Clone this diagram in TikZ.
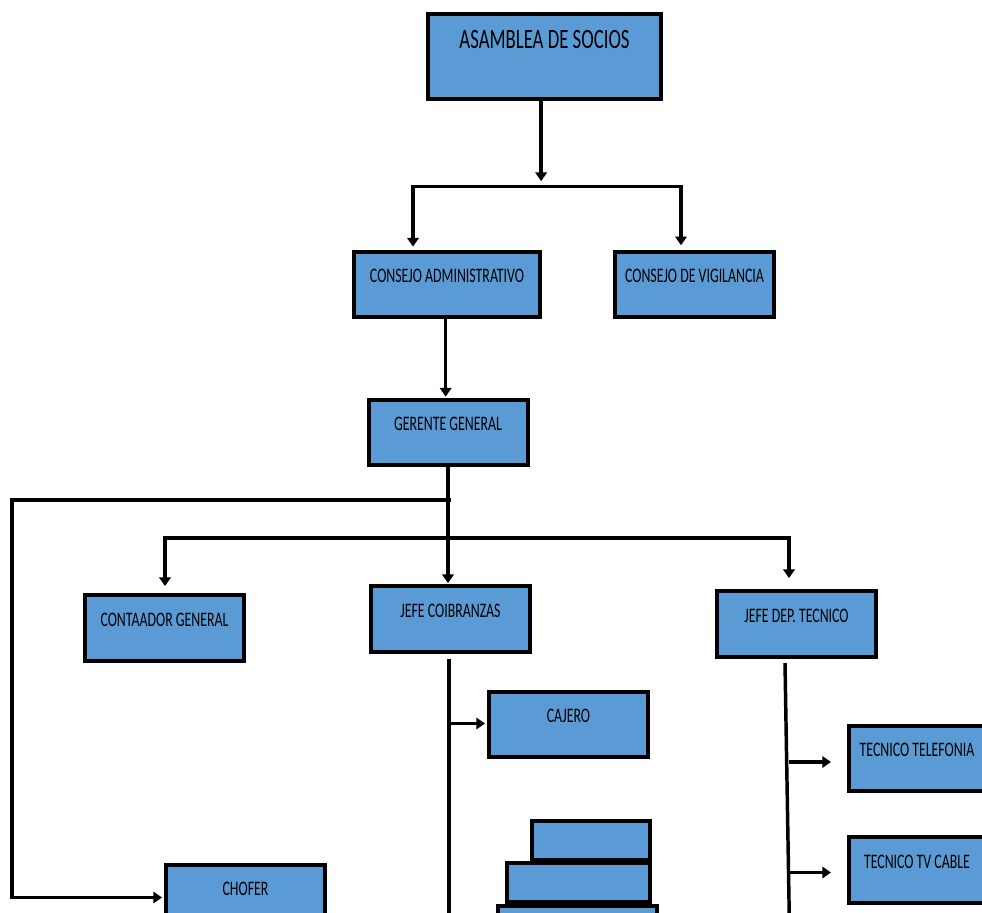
\documentclass[tikz,border=0pt]{standalone}
\usepackage{fontspec}
\usetikzlibrary{arrows.meta}
\newfontfamily\orgfont[FakeStretch=0.67]{Carlito}
\definecolor{boxblue}{HTML}{5B9BD5}

\tikzset{every picture/.style={line width=2.6pt}}
\tikzset{
	orgbox/.style={draw=black, fill=boxblue, line width=3pt, inner sep=0pt, minimum width=119.25pt, text height=22.9pt, text depth=25.9pt, font=\orgfont\fontsize{15.5}{18}\selectfont},
	blankbox/.style={draw=black, fill=boxblue, line width=3pt, inner sep=0pt},
	conn/.style={-{Triangle[length=6.5pt,width=8.5pt]}},
	bus/.style={line cap=rect},
}

\begin{document}
\begin{tikzpicture}[x=0.75pt,y=0.75pt,yscale=-1,xscale=1]
	\useasboundingbox (0,0) rectangle (982,913);
	
	%Shape: Rectangle [asamblea]
	\node[orgbox, minimum width=174.75pt, text height=26.2pt, text depth=37.5pt, font=\orgfont\fontsize{21}{24}\selectfont] (asamblea) at (544.5,56.5) {ASAMBLEA DE SOCIOS};
	%Shape: Rectangle [admin]
	\node[orgbox, minimum width=139.5pt] (admin) at (447,284.5) {CONSEJO ADMINISTRATIVO};
	%Shape: Rectangle [vigilancia]
	\node[orgbox] (vigilancia) at (694.5,284.5) {CONSEJO DE VIGILANCIA};
	%Shape: Rectangle [gerente]
	\node[orgbox] (gerente) at (448,432.5) {GERENTE GENERAL};
	%Shape: Rectangle [contador]
	\node[orgbox] (contador) at (164.5,628) {CONTAADOR GENERAL};
	%Shape: Rectangle [cobranzas]
	\node[orgbox] (cobranzas) at (450.5,619) {JEFE COIBRANZAS};
	%Shape: Rectangle [tecnico]
	\node[orgbox] (tecnico) at (796.5,624) {JEFE DEP. TECNICO};
	%Shape: Rectangle [cajero]
	\node[orgbox] (cajero) at (568.5,724.5) {CAJERO};
	%Shape: Rectangle [telefonia]
	\node[orgbox, minimum width=102pt] (telefonia) at (917,758.5) {TECNICO TELEFONIA};
	%Shape: Rectangle [tvcable]
	\node[orgbox, minimum width=102pt] (tvcable) at (917,870) {TECNICO TV CABLE};
	%Shape: Rectangle [chofer]
	\node[orgbox] (chofer) at (245.5,897.5) {CHOFER};
	
	%Shape: Rectangle [stack]
	\node[blankbox, minimum width=88.5pt, minimum height=29.25pt] (stackA) at (591,840.5) {};
	\node[blankbox, minimum width=107.25pt, minimum height=29.25pt] (stackB) at (578.5,882.5) {};
	\node[blankbox, minimum width=119.25pt, minimum height=48.75pt] (stackC) at (577.5,938.5) {};
	
	% bus points
	\coordinate (busAl) at (413,186.5);
	\coordinate (busAr) at (681,186.5);
	\coordinate (busBl) at (12,500);
	\coordinate (busBr) at (451,500);
	\coordinate (busCl) at (165,538);
	\coordinate (busCr) at (789,538);
	\coordinate (spineAtop) at (449,659);
	\coordinate (spineAend) at (449,930);
	\coordinate (spineAcajero) at (449,723.5);
	\coordinate (spineBtop) at (785,663);
	\coordinate (spineBend) at (789.5,930);
	\coordinate (spineBtel) at (789,762);
	\coordinate (spineBtv) at (789,872.5);
	
	%Straight Lines
	\draw[conn, shorten >=4pt] ([xshift=-2.5]asamblea.south) -- ([xshift=-2.5]asamblea.south |- busAl);
	\draw[bus] (busAl) -- (busAr);
	\draw[conn, shorten >=2.5pt] (busAl) -- (busAl |- admin.north);
	\draw[conn, shorten >=3.5pt] (busAr) -- (busAr |- vigilancia.north);
	
	%Straight Lines
	\draw[conn, shorten >=1pt] ([xshift=-1]admin.south) -- ([xshift=-1]admin.south |- gerente.north);
	\draw[conn, shorten >=1pt] (gerente.south) -- (gerente.south |- cobranzas.north);
	
	%Straight Lines
	\draw[conn, shorten >=1.5pt] (busBr) -- (busBl) -- (busBl |- chofer.west) -- (chofer.west);
	\draw[bus] (busCl) -- (busCr);
	\draw[conn, shorten >=5.5pt] (busCl) -- (busCl |- contador.north);
	\draw[conn, shorten >=8.5pt] (busCr) -- (busCr |- tecnico.north);
	
	%Straight Lines
	\draw (spineAtop) -- (spineAend);
	\draw[conn, shorten >=1.5pt] (spineAcajero) -- (spineAcajero -| cajero.west);
	\draw (spineBtop) -- (spineBend);
	\draw[conn, shorten >=12pt] (spineBtel) -- (spineBtel -| telefonia.west);
	\draw[conn, shorten >=12pt] (spineBtv) -- (spineBtv -| tvcable.west);
	
\end{tikzpicture}
\end{document}
